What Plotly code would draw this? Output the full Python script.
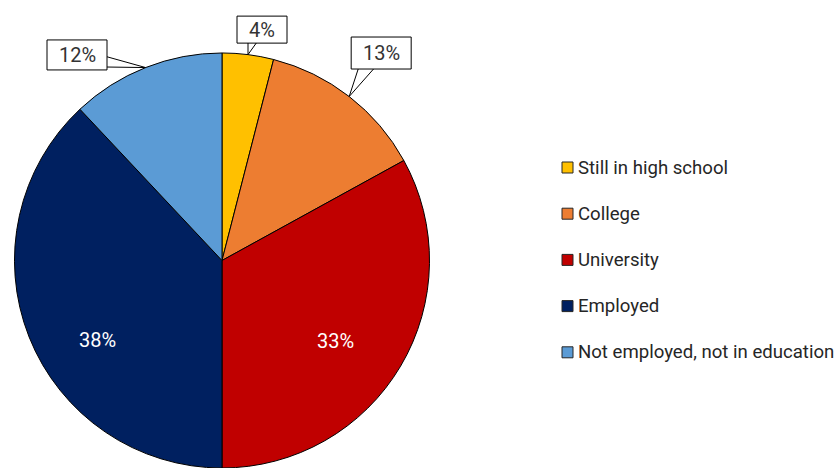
import math
import plotly.graph_objects as go

# ---- data ----
labels = ["Still in high school", "College", "University", "Employed",
          "Not employed, not in education"]
values = [4, 13, 33, 38, 12]
colors = ["#FFC000", "#ED7D31", "#C00000", "#002060", "#5B9BD5"]

# ---- layout / style (pixels) ----
W, H = 839, 468
CX = 222.0
DOM_Y_TOP = 0.8868
R = DOM_Y_TOP * H / 2.0
CY = H - R
FONT = "Roboto, Liberation Sans Narrow, Arial Narrow, sans-serif"

# label styles: callout (box offset from slice-edge point, box size, tail base rel. box centre)
label_style = {
    0: dict(kind="callout", off=(14, -25), size=(50, 27), base=[(-14, 11), (-4, 11)]),
    1: dict(kind="callout", off=(32, -43.5), size=(60, 32), base=[(-22, 13), (-5, 13)]),
    2: dict(kind="inside", rfrac=0.672, dtheta=4.6),
    3: dict(kind="inside", rfrac=0.714, dtheta=-10.9),
    4: dict(kind="callout", off=(-68.6, -12.6), size=(60, 30), base=[(27, 1), (24, 12)]),
}


def px2paper(x, y):
    return x / W, 1 - y / H


fig = go.Figure(go.Pie(
    labels=labels, values=values, sort=False, direction="clockwise", rotation=0,
    marker=dict(colors=colors, line=dict(color="black", width=1)),
    textinfo="none", hoverinfo="label+percent", showlegend=False,
    domain=dict(x=[(CX - R) / W, (CX + R) / W], y=[0, DOM_Y_TOP]),
))

shapes = []
annotations = []
total = sum(values)
cum = 0.0
for i, v in enumerate(values):
    mid = (cum + v / 2) / total * 360.0
    cum += v
    pct = f"{v / total * 100:.0f}%"
    st = label_style[i]
    if st["kind"] == "inside":
        th = math.radians(mid + st["dtheta"])
        rr = R * st["rfrac"]
        lx, ly = CX + rr * math.sin(th), CY - rr * math.cos(th)
        ax, ay = px2paper(lx, ly)
        annotations.append(dict(x=ax, y=ay, xref="paper", yref="paper", text=pct,
                                showarrow=False, font=dict(family=FONT, size=20, color="white"),
                                xanchor="center", yanchor="middle"))
    else:
        th = math.radians(mid)
        ex, ey = CX + R * math.sin(th), CY - R * math.cos(th)
        bx, by = ex + st["off"][0], ey + st["off"][1]
        bw, bh = st["size"]
        # tail
        (b1x, b1y), (b2x, b2y) = [(bx + p[0], by + p[1]) for p in st["base"]]
        pts = [px2paper(b1x, b1y), px2paper(ex, ey), px2paper(b2x, b2y)]
        path = "M {:.5f},{:.5f} L {:.5f},{:.5f} L {:.5f},{:.5f}".format(
            pts[0][0], pts[0][1], pts[1][0], pts[1][1], pts[2][0], pts[2][1])
        shapes.append(dict(type="path", path=path, xref="paper", yref="paper",
                           fillcolor="white", line=dict(color="black", width=1), layer="above"))
        x0, y0 = px2paper(bx - bw / 2, by + bh / 2)
        x1, y1 = px2paper(bx + bw / 2, by - bh / 2)
        shapes.append(dict(type="rect", xref="paper", yref="paper", x0=x0, y0=y0, x1=x1, y1=y1,
                           fillcolor="white", line=dict(color="black", width=1), layer="above"))
        ax, ay = px2paper(bx, by)
        annotations.append(dict(x=ax, y=ay, xref="paper", yref="paper", text=pct,
                                showarrow=False, font=dict(family=FONT, size=20, color="#333333"),
                                xanchor="center", yanchor="middle"))

# ---- manual legend ----
LEG_X = 562
LEG_Y0 = 167.5
LEG_DY = 46.2
SQ = 11
for i, (lab, col) in enumerate(zip(labels, colors)):
    yc = LEG_Y0 + i * LEG_DY
    x0, y0 = px2paper(LEG_X, yc + SQ / 2)
    x1, y1 = px2paper(LEG_X + SQ, yc - SQ / 2)
    shapes.append(dict(type="rect", xref="paper", yref="paper", x0=x0, y0=y0, x1=x1, y1=y1,
                       fillcolor=col, line=dict(color="#262626", width=1)))
    tx, ty = px2paper(LEG_X + SQ + 3, yc)
    annotations.append(dict(x=tx, y=ty, xref="paper", yref="paper", text=lab, showarrow=False,
                            xanchor="left", yanchor="middle",
                            font=dict(family=FONT, size=18.6, color="#262626")))

fig.update_layout(
    width=W, height=H, margin=dict(l=0, r=0, t=0, b=0),
    paper_bgcolor="white", plot_bgcolor="white",
    shapes=shapes, annotations=annotations,
)

fig.write_html("out.html")
